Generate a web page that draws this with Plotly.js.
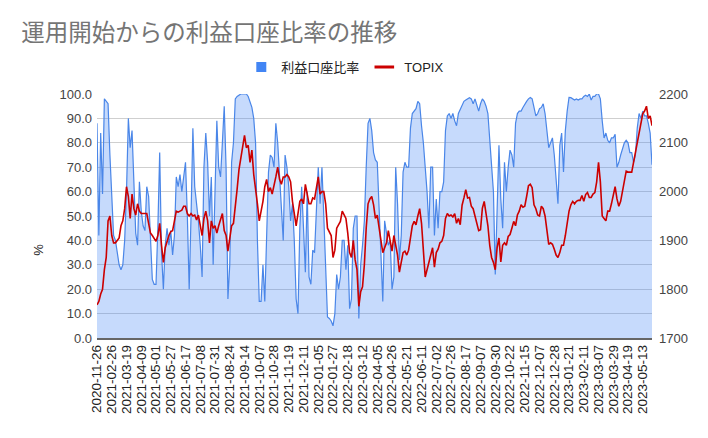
<!DOCTYPE html>
<html>
<head>
<meta charset="utf-8">
<script src="https://cdn.plot.ly/plotly-3.0.1.min.js"></script>
<style>
  html, body { margin: 0; padding: 0; background: #fff; }
  #chart { width: 708px; height: 438px; }
</style>
</head>
<body>
<div id="chart"></div>
<script>
// tick labels (one every 8 samples)
const dateLabels = [
    '2020-11-26', '2021-02-26', '2021-03-19', '2021-04-09', '2021-05-01', '2021-05-27',
    '2021-06-17', '2021-07-08', '2021-07-31', '2021-08-24', '2021-09-14', '2021-10-07',
    '2021-10-28', '2021-11-19', '2021-12-11', '2022-01-05', '2022-01-27', '2022-02-18',
    '2022-03-12', '2022-04-05', '2022-04-26', '2022-05-21', '2022-06-11', '2022-07-02',
    '2022-07-26', '2022-08-17', '2022-09-07', '2022-09-30', '2022-10-22', '2022-11-15',
    '2022-12-07', '2022-12-28', '2023-01-21', '2023-02-11', '2023-03-07', '2023-03-29',
    '2023-04-19', '2023-05-13'
];
const LABEL_STEP = 8;

// 利益口座比率 (%)
const profitRatio = [
    88, 42, 84, 59, 98, 97, 96, 75, 55, 42,
    40, 34, 30, 28, 30, 40, 60, 90, 78, 85,
    65, 43, 38, 64, 52, 46, 44, 62, 58, 40,
    24, 22, 22, 45, 76, 35, 20, 38, 45, 38,
    44, 34, 42, 66, 62, 67, 60, 66, 72, 50,
    20, 50, 86, 62, 56, 48, 38, 25, 70, 84,
    72, 50, 66, 30, 60, 89, 70, 66, 80, 95,
    70, 16, 30, 72, 80, 98, 99, 99.5, 100, 100,
    100, 100, 99, 97, 94.5, 90, 80, 40, 15, 15,
    30, 15, 45, 68, 75, 74, 70, 88, 80, 66,
    52, 40, 75, 70, 62, 48, 55, 40, 16, 10,
    45, 62, 45, 27, 60, 25, 22, 36, 35, 55,
    70, 55, 70, 50, 25, 8.6, 8, 7, 5, 10,
    26, 20, 25, 40, 40, 28, 38, 12, 16, 45,
    50, 50, 8, 30, 38, 48, 70, 88, 90, 85,
    76, 73, 72, 53, 35, 15, 48, 43, 38, 40,
    20, 25, 70, 55, 32, 42, 68, 72, 70, 70,
    86, 92, 93, 94, 97, 96, 87, 80, 70, 60,
    45, 70, 70, 42, 57, 45, 60, 60, 64, 85,
    91, 92, 90, 92, 89, 87, 92, 93.5, 95, 97,
    97.5, 98, 98.5, 98, 96, 98, 95, 93, 96, 98,
    97, 95, 92, 80, 71, 60, 26, 55, 79, 57,
    45, 72, 60, 70, 77, 75, 70, 88, 92, 93,
    93, 94.5, 96, 97, 98, 98.6, 98, 94, 91, 92,
    94, 94.5, 96, 92, 85, 78, 80, 82, 75, 65,
    55, 79, 84, 68, 85, 93, 98.6, 98.5, 98, 97.5,
    98, 97.5, 98, 98, 99, 99.5, 99, 100, 97.5, 99,
    99, 100, 100, 98, 89, 82, 84, 81, 80, 82,
    82, 83.5, 70, 72, 75, 78, 80, 81, 80, 76,
    76, 72, 75, 86, 92, 90, 93, 91, 91, 88,
    84, 71
];

// TOPIX
const topix = [
    1768, 1775, 1790, 1800, 1840, 1865, 1940, 1950, 1910, 1895,
    1895, 1900, 1905, 1930, 1940, 1965, 2010, 1990, 1945, 1995,
    1965, 1952, 1975, 1960, 1955, 1955, 1955, 1955, 1935, 1915,
    1910, 1905, 1898, 1910, 1935, 1890, 1855, 1885, 1900, 1910,
    1918, 1920, 1940, 1960, 1958, 1960, 1962, 1970, 1970, 1955,
    1950, 1955, 1950, 1952, 1942, 1952, 1930, 1910, 1945, 1960,
    1940, 1895, 1940, 1925, 1930, 1915, 1930, 1945, 1955, 1920,
    1910, 1878, 1910, 1930, 1935, 1965, 2005, 2045, 2070, 2085,
    2115, 2090, 2095, 2060, 2085, 2035, 2010, 1975, 1940, 1960,
    1980, 2010, 2025, 2000, 2008, 1995, 2010, 2030, 2050, 2025,
    2015, 2030, 2030, 2035, 2030, 2020, 1980, 1955, 1930, 1955,
    1980, 1985, 1975, 2015, 1990, 1975, 1975, 1987, 1985, 2005,
    2030, 1995, 2000, 2000, 1975, 1925, 1918, 1910, 1865, 1880,
    1925, 1932, 1939, 1960, 1952, 1945, 1915, 1875, 1865, 1900,
    1860, 1840, 1765, 1795, 1805, 1850, 1925, 1975, 1985, 1990,
    1973, 1945, 1952, 1930, 1900, 1875, 1885, 1895, 1920, 1900,
    1878, 1910, 1890, 1870, 1835, 1860, 1875, 1878, 1870, 1880,
    1910, 1930, 1939, 1932, 1950, 1965, 1935, 1875, 1825, 1840,
    1855, 1870, 1885, 1845, 1875, 1882, 1895, 1898, 1910, 1945,
    1955, 1950, 1952, 1948, 1955, 1935, 1945, 1932, 1972, 1987,
    2004, 1987, 1988, 1970, 1965, 1950, 1935, 1920, 1922, 1966,
    1980, 1952, 1930, 1890, 1865, 1855, 1840, 1885, 1905, 1856,
    1890, 1895, 1890, 1908, 1912, 1925, 1939, 1930, 1952, 1960,
    1973, 1968, 1970, 1990, 2012, 2015, 2008, 1973, 1965, 1952,
    1950, 1970, 1965, 1950, 1925, 1892, 1895, 1892, 1882, 1870,
    1865, 1875, 1890, 1890, 1910, 1935, 1960, 1973, 1980, 1975,
    1980, 1982, 1982, 1992, 1980, 1994, 1998, 1988, 1988, 1995,
    1998, 2020, 2060, 2020, 1950, 1945, 1940, 1960, 1960, 1975,
    1992, 2010, 1985, 1970, 1980, 2000, 2028, 2042, 2040, 2040,
    2040, 2060, 2080, 2095, 2115, 2140, 2160, 2165, 2175, 2150,
    2155, 2135
];

const FONT = 'Arial, "Liberation Sans", "Noto Sans CJK JP", sans-serif';

function plotChart() {
    const xIndex = profitRatio.map((v, i) => i);

    let ratioArea = {
        x: xIndex,
        y: profitRatio,
        mode: 'lines',
        fill: 'tozeroy',
        fillcolor: 'rgba(66,133,244,0.30)',
        line: { color: '#4a86e8', width: 1.2 },
        yaxis: 'y',
        showlegend: false,
        hoverinfo: 'skip'
    };

    let topixLine = {
        x: xIndex,
        y: topix,
        mode: 'lines',
        line: { color: '#cc0000', width: 1.6 },
        yaxis: 'y2',
        showlegend: false,
        hoverinfo: 'skip'
    };

    // legend-only entries so the keys look like the original (square / short bar)
    let ratioKey = {
        x: [null], y: [null],
        mode: 'markers',
        name: '利益口座比率',
        marker: { symbol: 'square', size: 10, color: '#4285f4' }
    };

    let topixKey = {
        x: [null], y: [null],
        mode: 'markers',
        name: 'TOPIX',
        yaxis: 'y2',
        marker: { symbol: 'line-ew', size: 14, line: { color: '#cc0000', width: 3 } }
    };

    const layout = {
        width: 708,
        height: 438,
        margin: { l: 97, r: 56, t: 94, b: 100 },
        paper_bgcolor: '#fff',
        plot_bgcolor: '#fff',
        font: { family: FONT, size: 13, color: '#444' },
        title: {
            text: '運用開始からの利益口座比率の推移',
            font: { family: '"Noto Sans CJK JP", sans-serif', size: 23.5, color: '#757575' },
            xref: 'container',
            x: 0.03,
            xanchor: 'left',
            yref: 'container',
            y: 0.925,
            yanchor: 'middle'
        },
        legend: {
            orientation: 'h',
            x: 0.26,
            xanchor: 'left',
            y: 1.11,
            yanchor: 'middle',
            font: { family: FONT, size: 13, color: '#222' },
            bgcolor: 'rgba(0,0,0,0)'
        },
        xaxis: {
            range: [0, profitRatio.length - 1],
            tickvals: dateLabels.map((d, j) => j * LABEL_STEP),
            ticktext: dateLabels,
            tickangle: -90,
            tickfont: { family: FONT, size: 13.5, color: '#222' },
            showgrid: false,
            zeroline: false,
            showline: true,
            linecolor: '#666',
            linewidth: 1.5,
            ticks: ''
        },
        yaxis: {
            range: [0, 100],
            dtick: 10,
            tickformat: '.1f',
            gridcolor: '#cfcfcf',
            zeroline: false,
            ticks: '',
            ticklabelstandoff: 4,
            tickfont: { family: FONT, size: 13, color: '#444' }
        },
        yaxis2: {
            range: [1700, 2200],
            dtick: 100,
            overlaying: 'y',
            side: 'right',
            showgrid: false,
            zeroline: false,
            ticks: '',
            ticklabelstandoff: 6,
            tickfont: { family: FONT, size: 13, color: '#444' }
        },
        annotations: [{
            text: '%',
            xref: 'paper', yref: 'paper',
            x: -0.124, y: 0.36,
            showarrow: false,
            textangle: -90,
            font: { family: FONT, size: 13, color: '#222' }
        }]
    };

    Plotly.newPlot('chart', [ratioArea, topixLine, ratioKey, topixKey], layout, { staticPlot: true });
}

plotChart();
</script>
</body>
</html>
